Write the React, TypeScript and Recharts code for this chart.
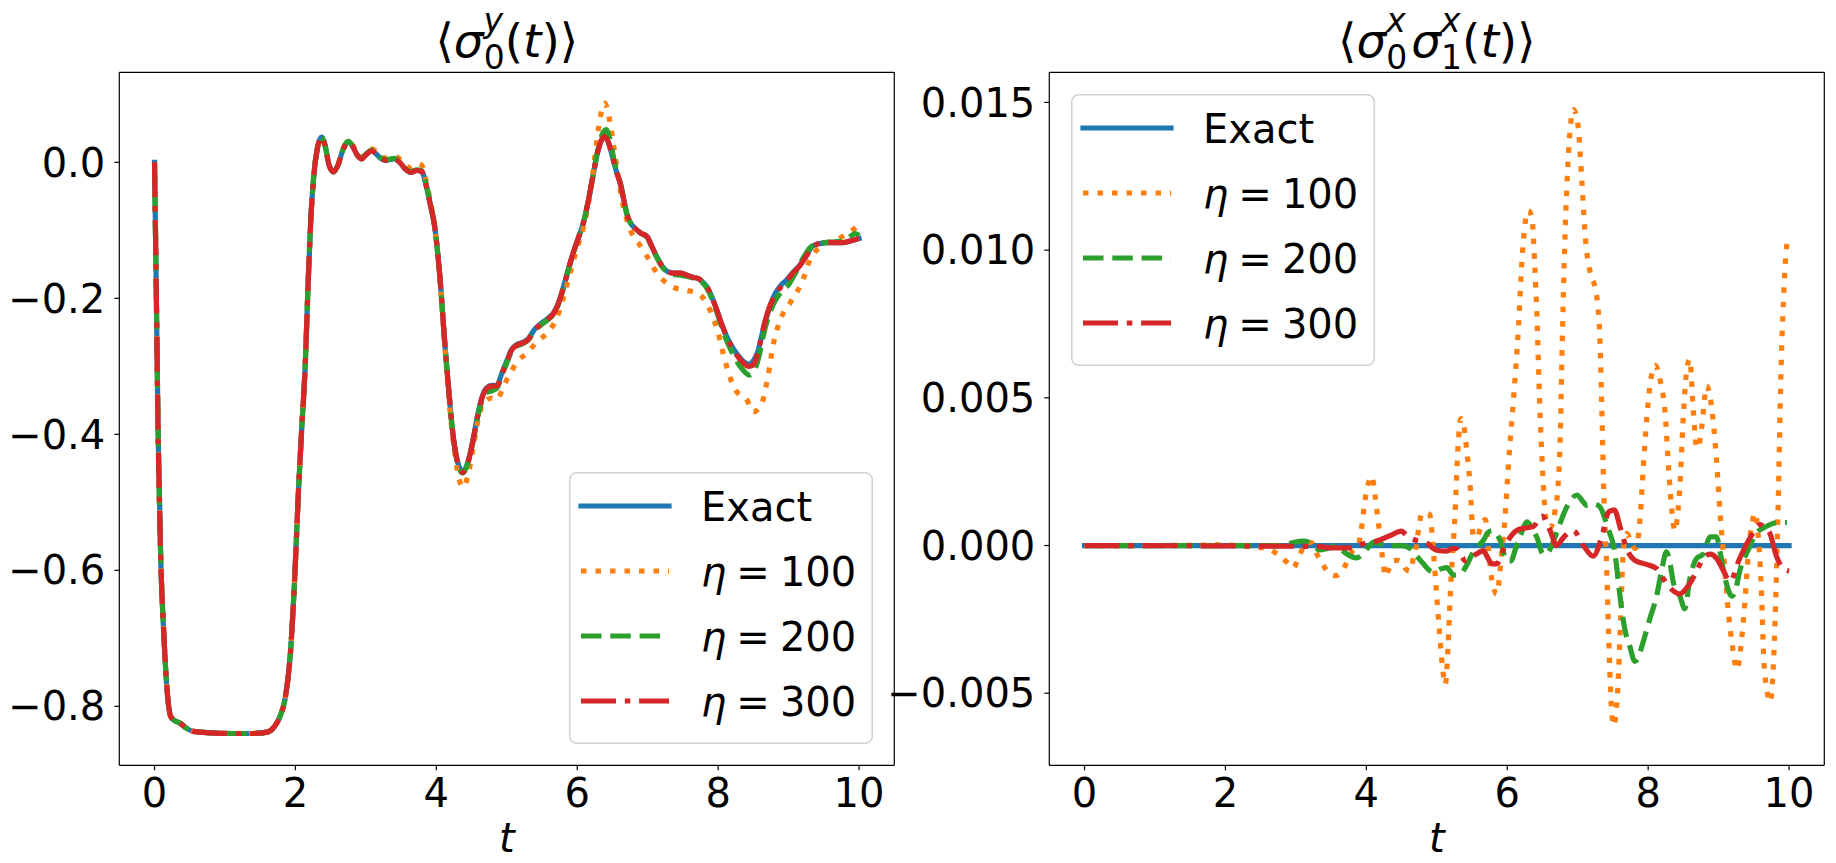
import React from "react";
import { LineChart, Line, XAxis, YAxis, Legend, ReferenceLine } from "recharts";

const FONT = "'DejaVu Sans', 'Liberation Sans', sans-serif";
const BLUE = "#1f77b4";
const ORANGE = "#ff7f0e";
const GREEN = "#2ca02c";
const RED = "#d62728";

type Pt = [number, number];

// <sigma^y_0(t)> -- left panel
const sigmaYExact: Pt[] = [
  [0, 0], [0.02, -0.15], [0.05, -0.39], [0.09, -0.59], [0.13, -0.69], [0.17, -0.765],
  [0.23, -0.815], [0.3, -0.822], [0.35, -0.824], [0.45, -0.832], [0.55, -0.837], [0.8, -0.839],
  [1.1, -0.84], [1.4, -0.84], [1.6, -0.838], [1.7, -0.83], [1.78, -0.815], [1.86, -0.785],
  [1.93, -0.72], [1.99, -0.61], [2.04, -0.49], [2.09, -0.39], [2.14, -0.296], [2.18, -0.178],
  [2.22, -0.08], [2.26, -0.02], [2.31, 0.02], [2.37, 0.037], [2.42, 0.025], [2.48, -0.005],
  [2.54, -0.014], [2.6, -0.005], [2.68, 0.02], [2.75, 0.03], [2.82, 0.022], [2.88, 0.01],
  [2.94, 0.005], [3.01, 0.012], [3.08, 0.017], [3.15, 0.012], [3.22, 0.005], [3.3, 0.003],
  [3.4, 0.005], [3.48, 0.0], [3.56, -0.01], [3.64, -0.015], [3.72, -0.012], [3.79, -0.013],
  [3.86, -0.036], [3.92, -0.065], [3.97, -0.09], [4.05, -0.168], [4.12, -0.266], [4.18, -0.34],
  [4.23, -0.395], [4.3, -0.44], [4.375, -0.455], [4.45, -0.44], [4.53, -0.403], [4.59, -0.37],
  [4.65, -0.345], [4.71, -0.332], [4.79, -0.328], [4.86, -0.328], [4.93, -0.31], [5.0, -0.292],
  [5.07, -0.275], [5.14, -0.268], [5.22, -0.265], [5.3, -0.26], [5.4, -0.245], [5.5, -0.236],
  [5.6, -0.228], [5.66, -0.222], [5.72, -0.21], [5.8, -0.185], [5.88, -0.155], [5.94, -0.134],
  [6.02, -0.11], [6.09, -0.088], [6.16, -0.055], [6.23, -0.016], [6.29, 0.015], [6.35, 0.034],
  [6.39, 0.038], [6.44, 0.03], [6.5, 0.008], [6.56, -0.015], [6.61, -0.031], [6.66, -0.055],
  [6.7, -0.075], [6.76, -0.09], [6.82, -0.097], [6.9, -0.104], [6.99, -0.109], [7.06, -0.124],
  [7.13, -0.139], [7.2, -0.152], [7.29, -0.161], [7.37, -0.163], [7.46, -0.163], [7.56, -0.166],
  [7.64, -0.169], [7.72, -0.171], [7.78, -0.176], [7.84, -0.183], [7.91, -0.198], [7.98, -0.217],
  [8.05, -0.238], [8.12, -0.256], [8.19, -0.27], [8.26, -0.281], [8.35, -0.292], [8.43, -0.297],
  [8.5, -0.292], [8.57, -0.276], [8.63, -0.25], [8.69, -0.227], [8.75, -0.207], [8.81, -0.193],
  [8.89, -0.181], [8.97, -0.173], [9.06, -0.162], [9.16, -0.151], [9.25, -0.137], [9.33, -0.124],
  [9.41, -0.12], [9.49, -0.119], [9.6, -0.118], [9.78, -0.118], [9.9, -0.115], [10.0, -0.112],
];

const sigmaY100: Pt[] = [
  [0, 0], [0.02, -0.15], [0.05, -0.39], [0.09, -0.59], [0.13, -0.69], [0.17, -0.765],
  [0.23, -0.815], [0.3, -0.822], [0.35, -0.824], [0.45, -0.832], [0.55, -0.837], [0.8, -0.839],
  [1.1, -0.84], [1.4, -0.84], [1.6, -0.838], [1.7, -0.83], [1.78, -0.815], [1.86, -0.785],
  [1.93, -0.72], [1.99, -0.61], [2.04, -0.49], [2.09, -0.39], [2.14, -0.296], [2.18, -0.178],
  [2.22, -0.08], [2.26, -0.02], [2.31, 0.02], [2.37, 0.036], [2.42, 0.024], [2.48, -0.006],
  [2.54, -0.013], [2.6, -0.004], [2.68, 0.021], [2.75, 0.031], [2.82, 0.024], [2.88, 0.013],
  [2.94, 0.008], [3.01, 0.015], [3.08, 0.02], [3.15, 0.016], [3.22, 0.008], [3.3, 0.006],
  [3.4, 0.009], [3.48, 0.005], [3.56, -0.004], [3.64, -0.008], [3.72, -0.002], [3.79, -0.004],
  [3.86, -0.03], [3.92, -0.06], [3.97, -0.09], [4.05, -0.17], [4.12, -0.27], [4.18, -0.35],
  [4.24, -0.41], [4.31, -0.46], [4.38, -0.478], [4.45, -0.46], [4.53, -0.415], [4.6, -0.375],
  [4.67, -0.354], [4.78, -0.347], [4.86, -0.349], [4.95, -0.33], [5.05, -0.31], [5.16, -0.292],
  [5.28, -0.281], [5.43, -0.264], [5.59, -0.249], [5.71, -0.229], [5.8, -0.2], [5.9, -0.162],
  [6.0, -0.125], [6.09, -0.095], [6.16, -0.06], [6.23, -0.01], [6.3, 0.05], [6.39, 0.087],
  [6.46, 0.062], [6.52, 0.022], [6.58, -0.02], [6.64, -0.058], [6.72, -0.09], [6.8, -0.11],
  [6.87, -0.119], [7.0, -0.14], [7.1, -0.158], [7.2, -0.171], [7.34, -0.183], [7.53, -0.188],
  [7.72, -0.193], [7.86, -0.212], [8.0, -0.251], [8.1, -0.293], [8.24, -0.334], [8.41, -0.35],
  [8.5, -0.367], [8.62, -0.354], [8.71, -0.313], [8.78, -0.269], [8.9, -0.227], [9.02, -0.207],
  [9.21, -0.171], [9.3, -0.144], [9.49, -0.122], [9.7, -0.113], [9.85, -0.104], [10.0, -0.092],
];

const sigmaY200: Pt[] = [
  [0, 0], [0.02, -0.15], [0.05, -0.39], [0.09, -0.59], [0.13, -0.69], [0.17, -0.765],
  [0.23, -0.815], [0.3, -0.822], [0.35, -0.824], [0.45, -0.832], [0.55, -0.837], [0.8, -0.839],
  [1.1, -0.84], [1.4, -0.84], [1.6, -0.838], [1.7, -0.83], [1.78, -0.815], [1.86, -0.785],
  [1.93, -0.72], [1.99, -0.61], [2.04, -0.49], [2.09, -0.39], [2.14, -0.296], [2.18, -0.178],
  [2.22, -0.08], [2.26, -0.02], [2.31, 0.02], [2.37, 0.037], [2.42, 0.025], [2.48, -0.005],
  [2.54, -0.014], [2.6, -0.005], [2.68, 0.02], [2.75, 0.031], [2.82, 0.023], [2.88, 0.011],
  [2.94, 0.006], [3.01, 0.013], [3.08, 0.018], [3.15, 0.013], [3.22, 0.006], [3.3, 0.004],
  [3.4, 0.006], [3.48, 0.001], [3.56, -0.009], [3.64, -0.014], [3.72, -0.011], [3.79, -0.012],
  [3.86, -0.035], [3.92, -0.064], [3.97, -0.09], [4.05, -0.168], [4.12, -0.266], [4.18, -0.34],
  [4.23, -0.395], [4.3, -0.442], [4.375, -0.457], [4.45, -0.442], [4.53, -0.405], [4.59, -0.373],
  [4.65, -0.35], [4.72, -0.338], [4.79, -0.336], [4.86, -0.332], [4.93, -0.313], [5.0, -0.295],
  [5.07, -0.278], [5.14, -0.27], [5.22, -0.267], [5.3, -0.262], [5.4, -0.247], [5.5, -0.238],
  [5.6, -0.23], [5.66, -0.224], [5.72, -0.212], [5.8, -0.186], [5.88, -0.155], [5.94, -0.134],
  [6.02, -0.11], [6.09, -0.088], [6.16, -0.055], [6.23, -0.016], [6.29, 0.017], [6.35, 0.04],
  [6.41, 0.048], [6.46, 0.035], [6.51, 0.01], [6.56, -0.014], [6.61, -0.03], [6.66, -0.054],
  [6.7, -0.074], [6.76, -0.09], [6.82, -0.097], [6.9, -0.104], [6.99, -0.11], [7.06, -0.125],
  [7.13, -0.14], [7.2, -0.153], [7.29, -0.162], [7.37, -0.165], [7.46, -0.166], [7.56, -0.168],
  [7.64, -0.17], [7.72, -0.172], [7.78, -0.177], [7.84, -0.185], [7.91, -0.2], [7.98, -0.22],
  [8.05, -0.242], [8.12, -0.262], [8.19, -0.278], [8.26, -0.292], [8.35, -0.305], [8.45, -0.313],
  [8.52, -0.305], [8.58, -0.285], [8.64, -0.255], [8.72, -0.225], [8.8, -0.205], [8.9, -0.19],
  [9.0, -0.18], [9.1, -0.162], [9.2, -0.142], [9.3, -0.126], [9.4, -0.12], [9.5, -0.118],
  [9.65, -0.117], [9.8, -0.115], [9.95, -0.105], [10.0, -0.108],
];

const sigmaY300: Pt[] = [
  [0, 0], [0.02, -0.15], [0.05, -0.39], [0.09, -0.59], [0.13, -0.69], [0.17, -0.765],
  [0.23, -0.815], [0.3, -0.822], [0.35, -0.824], [0.45, -0.832], [0.55, -0.837], [0.8, -0.839],
  [1.1, -0.84], [1.4, -0.84], [1.6, -0.838], [1.7, -0.83], [1.78, -0.815], [1.86, -0.785],
  [1.93, -0.72], [1.99, -0.61], [2.04, -0.49], [2.09, -0.39], [2.14, -0.296], [2.18, -0.178],
  [2.22, -0.08], [2.26, -0.02], [2.31, 0.02], [2.37, 0.037], [2.42, 0.025], [2.48, -0.005],
  [2.54, -0.014], [2.6, -0.005], [2.68, 0.02], [2.75, 0.03], [2.82, 0.022], [2.88, 0.01],
  [2.94, 0.005], [3.01, 0.012], [3.08, 0.017], [3.15, 0.012], [3.22, 0.005], [3.3, 0.003],
  [3.4, 0.005], [3.48, 0.0], [3.56, -0.01], [3.64, -0.015], [3.72, -0.012], [3.79, -0.013],
  [3.86, -0.036], [3.92, -0.065], [3.97, -0.09], [4.05, -0.168], [4.12, -0.266], [4.18, -0.34],
  [4.23, -0.395], [4.3, -0.44], [4.375, -0.456], [4.45, -0.441], [4.53, -0.404], [4.59, -0.371],
  [4.65, -0.346], [4.71, -0.333], [4.79, -0.329], [4.86, -0.329], [4.93, -0.311], [5.0, -0.293],
  [5.07, -0.276], [5.14, -0.269], [5.22, -0.266], [5.3, -0.261], [5.4, -0.246], [5.5, -0.237],
  [5.6, -0.229], [5.66, -0.223], [5.72, -0.211], [5.8, -0.186], [5.88, -0.155], [5.94, -0.134],
  [6.02, -0.11], [6.09, -0.088], [6.16, -0.055], [6.23, -0.016], [6.29, 0.015], [6.35, 0.034],
  [6.39, 0.038], [6.44, 0.03], [6.5, 0.008], [6.56, -0.015], [6.61, -0.031], [6.66, -0.055],
  [6.7, -0.075], [6.76, -0.09], [6.82, -0.097], [6.9, -0.104], [6.99, -0.109], [7.06, -0.124],
  [7.13, -0.139], [7.2, -0.152], [7.29, -0.161], [7.37, -0.163], [7.46, -0.163], [7.56, -0.166],
  [7.64, -0.169], [7.72, -0.171], [7.78, -0.176], [7.84, -0.183], [7.91, -0.198], [7.98, -0.217],
  [8.05, -0.238], [8.12, -0.256], [8.19, -0.271], [8.26, -0.283], [8.35, -0.294], [8.43, -0.3],
  [8.5, -0.298], [8.58, -0.272], [8.65, -0.24], [8.71, -0.218], [8.77, -0.203], [8.83, -0.192],
  [8.9, -0.182], [8.97, -0.174], [9.06, -0.163], [9.16, -0.152], [9.25, -0.138], [9.33, -0.125],
  [9.41, -0.12], [9.49, -0.119], [9.6, -0.118], [9.78, -0.118], [9.9, -0.115], [10.0, -0.112],
];

// <sigma^x_0 sigma^x_1(t)> -- right panel
const corrExact: Pt[] = [[0, 0], [10, 0]];

const corr100: Pt[] = [
  [0, 0], [1.0, 0], [2.0, 0.00002], [2.4, -0.00005], [2.6, -0.0001], [2.73, -0.00028],
  [2.87, -0.00056], [2.96, -0.00076], [3.06, -0.00028], [3.15, 0.0001], [3.22, 0.0001],
  [3.3, -0.0003], [3.39, -0.00068], [3.48, -0.00095], [3.57, -0.00102], [3.64, -0.0009],
  [3.7, -0.00068], [3.8, -0.0002], [3.89, 0.00006], [3.93, 0.00056], [3.98, 0.00152],
  [4.04, 0.0022], [4.08, 0.00234], [4.12, 0.00175], [4.17, 0.00079], [4.22, -0.00023],
  [4.27, -0.00105], [4.32, -0.0008], [4.38, -0.00051], [4.44, -0.0005], [4.5, -0.00056],
  [4.56, -0.0008], [4.62, -0.00087], [4.67, -0.0004], [4.71, 0.0], [4.75, 0.0007],
  [4.79, 0.00109], [4.85, 0.0011], [4.9, 0.00105], [4.95, -0.00017], [4.99, -0.00141],
  [5.03, -0.0027], [5.08, -0.0041], [5.12, -0.00471], [5.16, -0.0034], [5.19, -0.00171],
  [5.26, 0.00114], [5.3, 0.0033], [5.34, 0.0043], [5.38, 0.0041], [5.43, 0.0031],
  [5.47, 0.00214], [5.52, 0.00029], [5.57, 0.0003], [5.64, 0.00075], [5.69, 0.00088],
  [5.73, 0.0], [5.78, -0.00114], [5.85, -0.00164], [5.92, -0.00029], [5.97, 0.001],
  [6.02, 0.00285], [6.09, 0.005], [6.16, 0.00742], [6.21, 0.0097], [6.25, 0.01084],
  [6.3, 0.01134], [6.35, 0.0111], [6.39, 0.0095], [6.42, 0.00785], [6.46, 0.00485],
  [6.5, 0.0026], [6.55, 0.0009], [6.61, 0.0006], [6.68, 0.0012], [6.72, 0.002],
  [6.75, 0.0035], [6.78, 0.0068], [6.82, 0.0105], [6.87, 0.0133], [6.94, 0.01476],
  [7.0, 0.0143], [7.06, 0.0123], [7.1, 0.0107], [7.18, 0.0092], [7.25, 0.0087],
  [7.29, 0.008], [7.31, 0.0073], [7.34, 0.00485], [7.37, 0.00185], [7.41, -0.0007],
  [7.44, -0.0031], [7.47, -0.0051], [7.51, -0.0061], [7.55, -0.0055], [7.58, -0.0043],
  [7.61, -0.0024], [7.65, -0.0001], [7.7, 0.0004], [7.76, 0.0001], [7.82, -0.0001],
  [7.86, 0.0003], [7.89, 0.0011], [7.93, 0.0026], [7.98, 0.0043], [8.03, 0.0055],
  [8.1, 0.0061], [8.17, 0.0056], [8.24, 0.0045], [8.29, 0.0026], [8.34, 0.0011],
  [8.38, 0.0005], [8.42, 0.0011], [8.45, 0.002], [8.5, 0.0044], [8.55, 0.006],
  [8.59, 0.0063], [8.64, 0.0046], [8.69, 0.0033], [8.72, 0.0034], [8.76, 0.004],
  [8.83, 0.0054], [8.9, 0.0047], [8.97, 0.0029], [9.02, 0.0011], [9.07, -0.0003],
  [9.14, -0.0023], [9.19, -0.0033], [9.26, -0.0042], [9.33, -0.0031], [9.38, -0.0017],
  [9.42, -0.0003], [9.47, 0.0007], [9.52, 0.0011], [9.56, 0.0004], [9.61, -0.0017],
  [9.64, -0.0038], [9.68, -0.0048], [9.73, -0.0053], [9.78, -0.0039], [9.82, -0.001],
  [9.85, 0.0019], [9.88, 0.0054], [9.92, 0.0083], [9.97, 0.0102], [10.0, 0.0104],
];

const corr200: Pt[] = [
  [0, 0], [2.8, 0], [2.96, 0.0001], [3.1, 0.00015], [3.2, 0.0001], [3.34, -0.00015],
  [3.45, -0.0001], [3.58, 0.0], [3.65, -0.00015], [3.72, -0.00028], [3.86, -0.00042],
  [3.94, -0.0003], [4.01, -0.00011], [4.1, 0.00011], [4.2, 0.00005], [4.34, 0.0],
  [4.5, 0.0], [4.62, -0.0001], [4.71, -0.00034], [4.81, -0.00062], [4.9, -0.00085],
  [4.97, -0.0009], [5.05, -0.0008], [5.14, -0.00075], [5.24, -0.001], [5.33, -0.00098],
  [5.42, -0.00068], [5.5, -0.0003], [5.57, -0.00006], [5.66, 0.00017], [5.73, 0.00045],
  [5.78, 0.0005], [5.85, 0.0004], [5.9, 0.00017], [5.99, -0.0005], [6.05, -0.00052],
  [6.12, -0.0001], [6.18, 0.00028], [6.28, 0.0008], [6.35, 0.0006], [6.42, 0.00028],
  [6.51, -0.00029], [6.56, -0.00029], [6.63, 0.0], [6.7, 0.00043], [6.84, 0.00128],
  [6.99, 0.00171], [7.07, 0.0015], [7.13, 0.00136], [7.22, 0.0014], [7.29, 0.00136],
  [7.36, 0.0011], [7.41, 0.00071], [7.53, -0.00029], [7.6, -0.00171], [7.67, -0.00285],
  [7.74, -0.00342], [7.81, -0.00392], [7.86, -0.0038], [7.91, -0.00342], [8.03, -0.00243],
  [8.12, -0.00171], [8.19, -0.00086], [8.26, -0.00021], [8.31, -0.0006], [8.36, -0.00128],
  [8.45, -0.00171], [8.52, -0.00214], [8.59, -0.00114], [8.69, -0.00043], [8.78, -0.00029],
  [8.88, 0.00029], [8.97, 0.00029], [9.02, -0.0002], [9.07, -0.00086], [9.19, -0.00171],
  [9.24, -0.0015], [9.3, -0.00086], [9.42, -0.00014], [9.54, 0.00043], [9.64, 0.0006],
  [9.73, 0.00071], [9.85, 0.00078], [9.97, 0.00078],
];

const corr300: Pt[] = [
  [0, 0], [3.3, -0.00003], [3.5, -0.00008], [3.8, -0.00008], [3.96, 0.00006], [4.15, 0.00015],
  [4.34, 0.00034], [4.5, 0.00049], [4.57, 0.00034], [4.71, 0.00017], [4.85, 0.0001],
  [4.95, -0.0001], [5.02, -0.00017], [5.14, -0.00019], [5.22, -0.0001], [5.28, -0.00011],
  [5.34, -0.0003], [5.4, -0.00051], [5.48, -0.0004], [5.57, -0.00028], [5.66, -0.00017],
  [5.72, -0.0004], [5.78, -0.00062], [5.85, -0.00062], [5.95, -0.00011], [6.04, 0.00028],
  [6.18, 0.00056], [6.28, 0.0006], [6.37, 0.00064], [6.49, 0.001], [6.61, 0.0005],
  [6.7, 0.0], [6.8, 0.00028], [6.94, 0.0005], [7.08, 0.0], [7.22, -0.00036],
  [7.34, 0.00028], [7.44, 0.00114], [7.52, 0.00121], [7.6, 0.00064], [7.7, -0.00014],
  [7.81, -0.0005], [7.98, -0.00064], [8.12, -0.00078], [8.22, -0.00114], [8.34, -0.0015],
  [8.45, -0.00164], [8.57, -0.00136], [8.69, -0.00086], [8.78, -0.00043], [8.88, -0.00029],
  [8.97, -0.00043], [9.07, -0.00086], [9.16, -0.00121], [9.3, -0.00043], [9.45, 0.00028],
  [9.59, 0.00071], [9.66, 0.0006], [9.73, 0.0004], [9.82, -0.00036], [9.92, -0.00078],
  [10.0, -0.00086],
];

const tTicks = [0, 2, 4, 6, 8, 10];
const tDomain: [number, number] = [-0.5, 10.5];
const sigmaYTicks = [-0.8, -0.6, -0.4, -0.2, 0.0];
const corrTicks = [-0.005, 0.0, 0.005, 0.01, 0.015];

const legendLabels = ["Exact", "100", "200", "300"];

const LW = 5.2;
const STYLES = [
  { color: BLUE, dash: undefined as string | undefined, cap: "square" as const },
  { color: ORANGE, dash: "5.5 9", cap: "butt" as const },
  { color: GREEN, dash: "20.5 8.8", cap: "butt" as const },
  { color: RED, dash: "35 8.8 5.5 8.8", cap: "butt" as const },
];

const toRows = (pts: Pt[]) => pts.map(([t, v]) => ({ t, v }));

const fmt = (digits: number) => (v: number) => {
  const s = Math.abs(v).toFixed(digits);
  return v < -1e-12 ? "\u2212" + s : s;
};

const tickStyle = { fill: "#000", fontSize: 40, fontFamily: FONT };
const spine = { stroke: "#000", strokeWidth: 1.2 };

function LegendBox() {
  const w = 304;
  const h = 272;
  return (
    <svg width={w} height={h} style={{ display: "block", overflow: "visible" }}>
      <rect x={0.75} y={0.75} width={w - 1.5} height={h - 1.5} rx={7} fill="#fff" fillOpacity={0.8} stroke="#d0d0d0" strokeWidth={1.5} />
      {STYLES.map((s, i) => {
        const y = 34 + i * 65;
        return (
          <g key={i}>
            <line x1={12} x2={100} y1={y} y2={y} stroke={s.color} strokeWidth={LW} strokeDasharray={s.dash} strokeLinecap={s.cap} />
            <text x={132} y={y + 15} fontSize={40} fontFamily={FONT} fill="#000">
              {i === 0 ? (
                legendLabels[0]
              ) : (
                <>
                  <tspan fontStyle="italic">η</tspan>
                  <tspan>{"\u2005=\u2005" + legendLabels[i]}</tspan>
                </>
              )}
            </text>
          </g>
        );
      })}
    </svg>
  );
}

interface PanelProps {
  series: Pt[][];
  domain: [number, number];
  ticks: number[];
  digits: number;
  width: number;
  yAxisWidth: number;
  marginLeft: number;
  marginRight: number;
  legendLeft: number;
  legendTop: number;
}

function Panel({ series, domain, ticks, digits, width, yAxisWidth, marginLeft, marginRight, legendLeft, legendTop }: PanelProps) {
  return (
    <LineChart
      width={width}
      height={863}
      margin={{ top: 72.3, right: marginRight, bottom: 37.7, left: marginLeft }}
      style={{ overflow: "visible" }}
    >
      <XAxis
        type="number"
        dataKey="t"
        domain={tDomain}
        ticks={tTicks}
        allowDataOverflow
        height={60}
        tick={tickStyle}
        tickSize={5}
        tickMargin={8}
        axisLine={spine}
        tickLine={spine}
      />
      <YAxis
        type="number"
        domain={domain}
        ticks={ticks}
        allowDataOverflow
        width={yAxisWidth}
        tick={tickStyle}
        tickFormatter={fmt(digits)}
        tickSize={5}
        tickMargin={9}
        axisLine={spine}
        tickLine={spine}
      />
      {/* top and right spines of the axes box */}
      <ReferenceLine y={domain[1]} stroke="#000" strokeWidth={1.2} ifOverflow="visible" />
      <ReferenceLine x={tDomain[1]} stroke="#000" strokeWidth={1.2} ifOverflow="visible" />
      {series.map((pts, i) => (
        <Line
          key={i}
          data={toRows(pts)}
          dataKey="v"
          type="monotone"
          stroke={STYLES[i].color}
          strokeWidth={LW}
          strokeDasharray={STYLES[i].dash}
          strokeLinecap={STYLES[i].cap}
          strokeLinejoin="round"
          dot={false}
          activeDot={false}
          isAnimationActive={false}
        />
      ))}
      <Legend
        layout="horizontal"
        align="center"
        verticalAlign="middle"
        content={() => <LegendBox />}
        wrapperStyle={{ left: legendLeft, top: legendTop, width: 304, height: 272 }}
      />
    </LineChart>
  );
}

export default function App() {
  const sub = 33;
  return (
    <div style={{ position: "absolute", left: 0, top: 0, width: 1836, height: 863, background: "#fff", fontFamily: FONT }}>
      <div style={{ position: "absolute", left: 0, top: 0 }}>
        <Panel
          series={[sigmaYExact, sigmaY100, sigmaY200, sigmaY300]}
          domain={[-0.8868, 0.1324]}
          ticks={sigmaYTicks}
          digits={1}
          width={918}
          yAxisWidth={110}
          marginLeft={9.3}
          marginRight={23.7}
          legendLeft={569}
          legendTop={472}
        />
      </div>
      <div style={{ position: "absolute", left: 860, top: 0 }}>
        <Panel
          series={[corrExact, corr100, corr200, corr300]}
          domain={[-0.00744, 0.01602]}
          ticks={corrTicks}
          digits={3}
          width={976}
          yAxisWidth={180}
          marginLeft={9.3}
          marginRight={11.7}
          legendLeft={211}
          legendTop={94}
        />
      </div>
      <svg width={1836} height={863} style={{ position: "absolute", left: 0, top: 0, pointerEvents: "none" }}>
        <g fontFamily={FONT} fill="#000">
          <text x={506.8} y={57} textAnchor="middle" fontSize={47}>
            <tspan>⟨</tspan>
            <tspan fontStyle="italic">σ</tspan>
            <tspan fontStyle="italic" fontSize={sub} dy={-25}>y</tspan>
            <tspan fontSize={sub} dx={-19.5} dy={37}>0</tspan>
            <tspan dy={-12}>(</tspan>
            <tspan fontStyle="italic">t</tspan>
            <tspan>)⟩</tspan>
          </text>
          <text x={1436.8} y={57} textAnchor="middle" fontSize={47}>
            <tspan>⟨</tspan>
            <tspan fontStyle="italic">σ</tspan>
            <tspan fontStyle="italic" fontSize={sub} dy={-25}>x</tspan>
            <tspan fontSize={sub} dx={-19.5} dy={37}>0</tspan>
            <tspan fontStyle="italic" dx={4} dy={-12}>σ</tspan>
            <tspan fontStyle="italic" fontSize={sub} dy={-25}>x</tspan>
            <tspan fontSize={sub} dx={-19.5} dy={37}>1</tspan>
            <tspan dy={-12}>(</tspan>
            <tspan fontStyle="italic">t</tspan>
            <tspan>)⟩</tspan>
          </text>
          <text x={506.8} y={852} textAnchor="middle" fontSize={40} fontStyle="italic">t</text>
          <text x={1436.8} y={852} textAnchor="middle" fontSize={40} fontStyle="italic">t</text>
        </g>
      </svg>
    </div>
  );
}
